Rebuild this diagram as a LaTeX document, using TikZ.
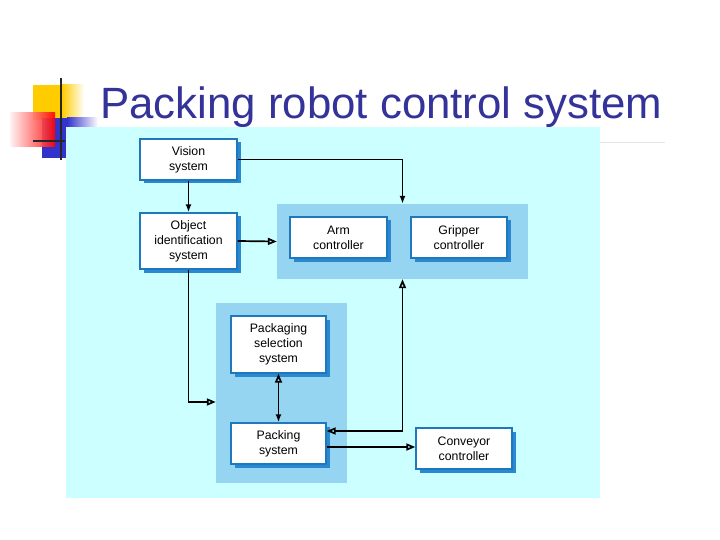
\documentclass[tikz,border=0pt]{standalone}
\usepackage{fontspec}
\setmainfont{Liberation Sans}
\usetikzlibrary{arrows.meta,shadows}
\definecolor{bgcyan}{HTML}{CCFFFF}
\definecolor{panelblue}{HTML}{95D5F2}
\definecolor{boxblue}{HTML}{1E78BE}
\definecolor{shadowblue}{HTML}{2A88D0}
\definecolor{titleblue}{HTML}{333399}
\definecolor{logoyellow}{HTML}{FFCC00}
\definecolor{logoblue}{HTML}{3333CC}
\tikzset{
  box/.style={draw=boxblue, fill=white, line width=1.4pt, align=center,
    font=\fontsize{12.3}{15}\selectfont,
    general shadow={fill=shadowblue, shadow xshift=3.5pt, shadow yshift=-3.5pt}},
  grp/.style={fill=panelblue, draw=none},
  conn/.style={line width=1.7pt, black},
  fhead/.style={-{Latex[length=8pt,width=6pt]}},
  ohead/.style={-{Triangle[open,length=9pt,width=7pt]}}
}
\begin{document}
\begin{tikzpicture}[x=1pt,y=-1pt]
\useasboundingbox (0,0) rectangle (720,540);
\fill[white] (0,0) rectangle (720,540);
% logo
\fill[logoyellow] (33,85) rectangle (62,120);
\shade[left color=logoyellow, right color=white] (62,85) rectangle (84,120);
\fill[logoblue] (42,118) rectangle (67,158);
\shade[left color=logoblue, right color=white] (67,118) rectangle (98,129);
\shade[left color=red!5, right color=red, opacity=0.9] (10,113) rectangle (55,147);
\draw[line width=2pt, black!85] (61,78) -- (61,160);
\draw[line width=2pt, black!85] (33,141) -- (65,141);
% title
\node[anchor=base west, inner sep=0, text=titleblue, font=\fontsize{43.8}{50}\selectfont] (title) at (100,119) {Packing robot control system};
\draw[gray!20, line width=0.8pt] (600,142) -- (665,142);
% main panel
\fill[bgcyan] (66,127) rectangle (600,498);
% group panels
\node[grp, minimum width=251pt, minimum height=75pt] (armpanel) at (402.5,241.5) {};
\node[grp, minimum width=131pt, minimum height=180pt] (packpanel) at (281.5,393) {};
% boxes
\node[box, minimum width=97pt, minimum height=41pt] (vision) at (188.5,159.5) {Vision\\system};
\node[box, minimum width=97pt, minimum height=56pt] (objid) at (188.5,241) {Object\\identification\\system};
\node[box, minimum width=97pt, minimum height=41pt] (arm) at (338.5,237.5) {Arm\\controller};
\node[box, minimum width=96pt, minimum height=41pt] (gripper) at (459,237.5) {Gripper\\controller};
\node[box, minimum width=95pt, minimum height=57pt] (pss) at (278.5,344.5) {Packaging\\selection\\system};
\node[box, minimum width=95pt, minimum height=41pt] (packing) at (278.5,443.5) {Packing\\system};
\node[box, minimum width=96pt, minimum height=41pt] (conveyor) at (464,448.5) {Conveyor\\controller};
% connectors
\draw[conn, fhead] (vision.south) -- (objid.north);
\draw[conn, fhead] (vision.east) -| (armpanel.north);
\draw[conn, ohead] (objid.east) -- (armpanel.west);
\draw[conn, ohead] (objid.south) |- ([yshift=-9pt]packpanel.west);
\draw[conn, {Triangle[open,length=9pt,width=7pt]}-{Latex[length=8pt,width=6pt]}] (pss.south) -- (packing.north);
\draw[conn, {Triangle[open,length=9pt,width=7pt]}-{Triangle[open,length=9pt,width=7pt]}] (armpanel.south) |- ([yshift=12.5pt]packing.east);
\draw[conn, ohead] ([yshift=-3.5pt]packing.east) -- ([yshift=-3.5pt]packing.east -| conveyor.west);
\end{tikzpicture}
\end{document}
